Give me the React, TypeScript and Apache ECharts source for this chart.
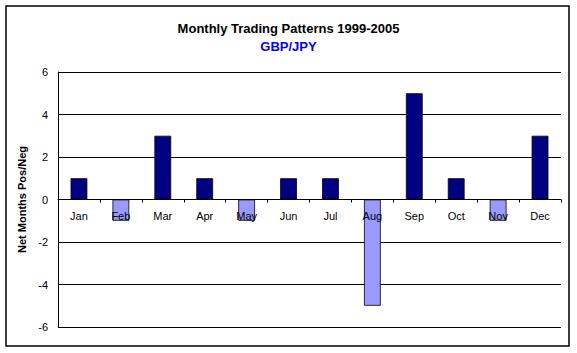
import React, { useEffect, useRef } from "react";
import * as echarts from "echarts";

const months = ["Jan", "Feb", "Mar", "Apr", "May", "Jun", "Jul", "Aug", "Sep", "Oct", "Nov", "Dec"];
const netValues = [1, -1, 3, 1, -1, 1, 1, -5, 5, 1, -1, 3];
const titleText = "Monthly Trading Patterns 1999-2005";
const subtitleText = "GBP/JPY";
const yAxisName = "Net Months Pos/Neg";

const POS = "#000080";
const NEG = "#9999FF";
const FONT = "'Liberation Sans', Arial, sans-serif";

export default function App() {
  const ref = useRef<HTMLDivElement>(null);
  useEffect(() => {
    if (!ref.current) return;
    const chart = echarts.init(ref.current, undefined, { renderer: "svg" });
    chart.setOption({
      animation: false,
      backgroundColor: "#ffffff",
      textStyle: { fontFamily: FONT },
      title: [
        {
          text: titleText,
          left: "center",
          top: 17,
          textStyle: { fontFamily: FONT, fontSize: 13, fontWeight: "bold", color: "#000" },
        },
        {
          text: subtitleText,
          left: "center",
          top: 35,
          textStyle: { fontFamily: FONT, fontSize: 13, fontWeight: "bold", color: "#0000FF" },
        },
      ],
      graphic: [
        {
          type: "rect",
          shape: { x: 6, y: 6, width: 563, height: 340 },
          style: { fill: "none", stroke: "#000", lineWidth: 1.5 },
          silent: true,
        },
      ],
      grid: { left: 58, right: 16, top: 72, bottom: 26, containLabel: false },
      xAxis: {
        type: "category",
        data: months,
        z: 5,
        offset: -127.5,
        axisLine: { show: true, onZero: false, lineStyle: { color: "#000", width: 1 } },
        axisTick: { show: true, alignWithLabel: false, length: 3, lineStyle: { color: "#000" } },
        axisLabel: { color: "#000", fontSize: 11, fontFamily: FONT, margin: 11 },
        splitLine: { show: false },
      },
      yAxis: {
        type: "value",
        min: -6,
        max: 6,
        interval: 2,
        name: yAxisName,
        nameLocation: "middle",
        nameGap: 24,
        nameTextStyle: { fontFamily: FONT, fontSize: 11, fontWeight: "bold", color: "#000" },
        axisLine: { show: true, lineStyle: { color: "#000", width: 1 } },
        axisTick: { show: false },
        axisLabel: { color: "#000", fontSize: 11, fontFamily: FONT, margin: 10 },
        splitLine: { show: true, lineStyle: { color: "#000", width: 1 } },
      },
      series: [
        {
          type: "bar",
          data: netValues.map((v) => ({
            value: v,
            itemStyle: { color: v >= 0 ? POS : NEG },
          })),
          barWidth: "40%",
          itemStyle: { borderColor: "#000", borderWidth: 0.8 },
        },
      ],
    });
    return () => chart.dispose();
  }, []);
  return (
    <div
      ref={ref}
      style={{ position: "fixed", left: 0, top: 0, width: 577, height: 353 }}
    />
  );
}
